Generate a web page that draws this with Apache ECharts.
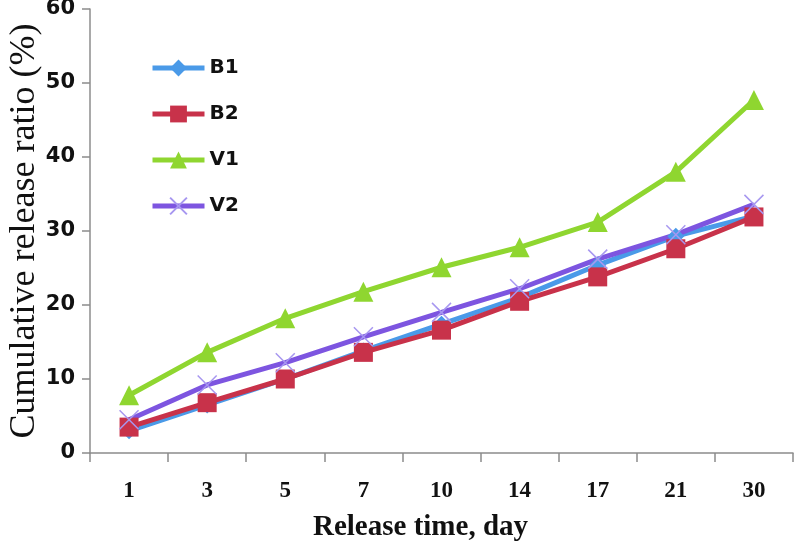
<!DOCTYPE html>
<html>
<head>
<meta charset="utf-8">
<script src="https://cdn.jsdelivr.net/npm/echarts@6/dist/echarts.min.js"></script>
<style>html,body{margin:0;padding:0;background:#fff}#c{width:796px;height:548px}</style>
</head>
<body>
<div id="c"></div>
<script>
const categories = ['1', '3', '5', '7', '10', '14', '17', '21', '30'];
const B1 = [3.0, 6.5, 10.0, 13.8, 17.4, 21.0, 25.4, 29.3, 32.0];
const B2 = [3.5, 6.8, 10.0, 13.6, 16.6, 20.5, 23.8, 27.6, 31.9];
const V1 = [7.8, 13.6, 18.2, 21.8, 25.1, 27.8, 31.2, 38.0, 47.7];
const V2 = [4.5, 9.2, 12.2, 15.7, 19.0, 22.2, 26.2, 29.5, 33.6];
const yTicks = [0, 10, 20, 30, 40, 50, 60];

const crossPath = 'path://M0,0L10,10M10,0L0,10';
const chart = echarts.init(document.getElementById('c'));
function mk(name, data, color, symbol, size, extra) {
  return Object.assign({
    name, type: 'line', data, symbol, symbolSize: size,
    lineStyle: { color, width: 5 },
    itemStyle: { color },
    emphasis: { disabled: true }
  }, extra || {});
}
chart.setOption({
  animation: false,
  grid: { left: 90, right: 3, top: 9, bottom: 95, containLabel: false, outerBoundsMode: 'none' },
  legend: {
    orient: 'vertical', left: 145, top: 53, itemGap: 26,
    itemWidth: 52, itemHeight: 21,
    lineStyle: { width: 5 },
    textStyle: { fontFamily: 'DejaVu Sans', fontWeight: 'bold', fontSize: 20, color: '#111' },
    data: ['B1', 'B2', 'V1', 'V2']
  },
  xAxis: {
    type: 'category', data: categories, boundaryGap: true,
    axisLine: { lineStyle: { color: '#8c8c8c', width: 1.5 } },
    axisTick: { show: true, length: 9, lineStyle: { color: '#8c8c8c', width: 1.5 } },
    axisLabel: { margin: 27, fontFamily: 'Liberation Serif', fontWeight: 'bold', fontSize: 23, color: '#111' },
    name: 'Release time, day', nameLocation: 'middle', nameGap: 60,
    nameTextStyle: { fontFamily: 'Liberation Serif', fontWeight: 'bold', fontSize: 29, color: '#111', padding: [0, 42, 0, 0] }
  },
  yAxis: {
    type: 'value', min: yTicks[0], max: yTicks[yTicks.length - 1], interval: 10,
    splitLine: { show: false },
    axisLine: { show: true, lineStyle: { color: '#8c8c8c', width: 1.5 } },
    axisTick: { show: true, length: 8, lineStyle: { color: '#8c8c8c', width: 1.5 } },
    axisLabel: { margin: 15, fontFamily: 'DejaVu Sans', fontWeight: 'bold', fontSize: 21, color: '#111' },
    name: 'Cumulative release ratio (%)', nameLocation: 'middle', nameGap: 47, nameMoveOverlap: false,
    nameTextStyle: { fontFamily: 'Liberation Serif', fontSize: 36, color: '#111' }
  },
  series: [
    mk('B1', B1, '#4a9ae8', 'diamond', 17),
    mk('B2', B2, '#c8324a', 'rect', 19),
    mk('V1', V1, '#8fd630', 'triangle', 20),
    mk('V2', V2, '#7d55e0', crossPath, 19, {
      itemStyle: { color: '#7d55e0', borderColor: '#a797f0', borderWidth: 1.5 }
    })
  ]
});
</script>
</body>
</html>
